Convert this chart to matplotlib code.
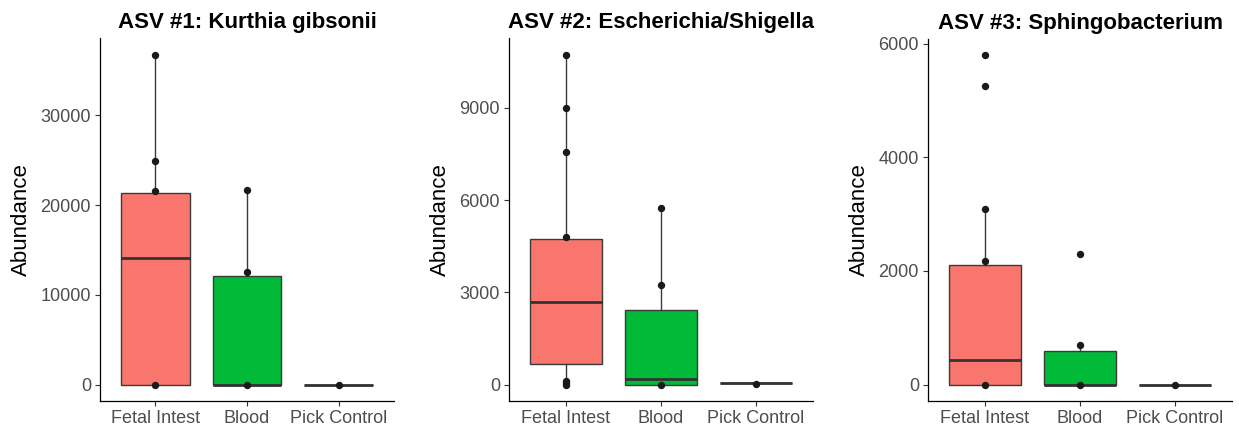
import matplotlib
matplotlib.use("Agg")
import matplotlib.pyplot as plt

plt.rcParams['font.family'] = ['Liberation Sans', 'DejaVu Sans']

groups = ["Fetal Intest", "Blood", "Pick Control"]
colors = ["#F8766D", "#00BA38", "#619CFF"]

titles = ["ASV #1: Kurthia gibsonii",
          "ASV #2: Escherichia/Shigella",
          "ASV #3: Sphingobacterium"]

# ASV 1
asv1_points = [[36790, 24870, 21560, 0], [21630, 12510, 0], [0]]
asv1_q1 = [0, 0, 0]
asv1_med = [14150, 0, 0]
asv1_q3 = [21400, 12100, 0]
asv1_lo = [0, 0, 0]
asv1_hi = [36790, 21630, 0]
asv1_ticks = [0, 10000, 20000, 30000]

# ASV 2
asv2_points = [[10740, 8990, 7565, 4793, 100, 50, 0], [5740, 3238, 0], [30]]
asv2_q1 = [652, 0, 50]
asv2_med = [2674, 163, 50]
asv2_q3 = [4748, 2423, 50]
asv2_lo = [0, 0, 50]
asv2_hi = [10740, 5740, 50]
asv2_ticks = [0, 3000, 6000, 9000]

# ASV 3
asv3_points = [[5793, 5253, 3096, 2169, 0], [2297, 691, 0], [0]]
asv3_q1 = [0, 0, 0]
asv3_med = [440, 0, 0]
asv3_q3 = [2111, 586, 0]
asv3_lo = [0, 0, 0]
asv3_hi = [3096, 691, 0]
asv3_ticks = [0, 2000, 4000, 6000]

panels = [
    (asv1_points, asv1_q1, asv1_med, asv1_q3, asv1_lo, asv1_hi, asv1_ticks),
    (asv2_points, asv2_q1, asv2_med, asv2_q3, asv2_lo, asv2_hi, asv2_ticks),
    (asv3_points, asv3_q1, asv3_med, asv3_q3, asv3_lo, asv3_hi, asv3_ticks),
]

W, H = 1239, 433
fig = plt.figure(figsize=(W / 100, H / 100), dpi=100)

# axes boxes in pixels: left, right, top, bottom
boxes = [(100, 394, 38, 401), (509, 813, 38, 401), (928, 1232, 39, 401)]

for i, (pts, q1, med, q3, lo, hi, ticks) in enumerate(panels):
    l, r, t, b = boxes[i]
    ax = fig.add_axes([l / W, 1 - b / H, (r - l) / W, (b - t) / H])

    stats = []
    for j in range(3):
        stats.append(dict(q1=q1[j], med=med[j], q3=q3[j],
                          whislo=lo[j], whishi=hi[j], fliers=[]))
    bp = ax.bxp(stats, positions=[1, 2, 3], widths=0.75, patch_artist=True,
                showcaps=False, showfliers=False,
                boxprops=dict(edgecolor="#3a3a3a", linewidth=1.0),
                whiskerprops=dict(color="#3a3a3a", linewidth=1.0),
                medianprops=dict(color="#333333", linewidth=2.0))
    for patch, c in zip(bp['boxes'], colors):
        patch.set_facecolor(c)

    for j in range(3):
        ax.plot([j + 1] * len(pts[j]), pts[j], 'o', color="#1a1a1a",
                markersize=4.3, zorder=5)

    allv = [v for p in pts for v in p] + hi
    ymax = max(allv)
    ymin = 0
    pad = (ymax - ymin) * 0.05
    ax.set_ylim(ymin - pad, ymax + pad)
    ax.set_xlim(0.4, 3.6)
    ax.set_yticks(ticks)
    ax.set_xticks([1, 2, 3])
    ax.set_xticklabels(groups)

    ax.spines['top'].set_visible(False)
    ax.spines['right'].set_visible(False)
    for s in ['left', 'bottom']:
        ax.spines[s].set_linewidth(0.9)
        ax.spines[s].set_color("black")
    ax.tick_params(axis='both', length=3.5, width=0.8, color="#333333",
                   labelsize=13, labelcolor="#4D4D4D", pad=3)
    ax.set_ylabel("Abundance", fontsize=16, color="black", labelpad=6)
    ax.set_title(titles[i], fontsize=16, fontweight='bold', pad=7)

fig.savefig("out.png", dpi=100)
